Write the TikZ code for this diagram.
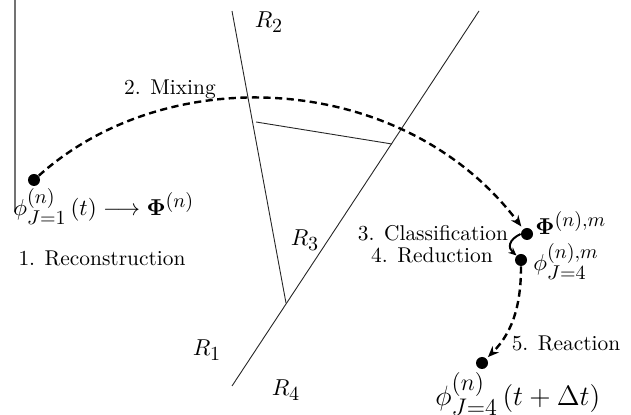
\RequirePackage{fix-cm}
\documentclass[tikz,border=0pt]{standalone}
\usetikzlibrary{arrows.meta}
\DeclareMathSizes{11.5}{11.5}{10}{7.5}
\DeclareMathSizes{14}{14}{12}{9}
\begin{document}
\begin{tikzpicture}[x=0.5pt,y=-0.5pt,
  font=\fontsize{10.7}{13}\selectfont,
  region/.style={draw=black!85, line width=0.45pt},
  frame/.style={draw=black!55, line width=0.6pt},
  flow/.style={line width=1.2pt, dash pattern=on 3.6pt off 2.2pt,
    -{Stealth[length=5.5pt,width=4.5pt]}},
  hook/.style={line width=1.0pt, -{Stealth[length=4pt,width=3.5pt]}},
  dot/.style={circle, fill=black, inner sep=0pt, minimum size=6pt},
  lbl/.style={inner sep=0pt},
  mlbl/.style={inner sep=0pt, font=\fontsize{11.5}{14}\selectfont},
  biglbl/.style={inner sep=0pt, font=\fontsize{14}{16}\selectfont}
]
\useasboundingbox (0,0) rectangle (631,415);

% region boundaries
\coordinate (vt) at (15,0);
\coordinate (vb) at (15,212);
\coordinate (a1) at (232,11);
\coordinate (a2) at (286,303);
\coordinate (b1) at (479,11);
\coordinate (b2) at (232,386);
\coordinate (c1) at (256,122);
\coordinate (c2) at (392,144);
\draw[frame] (vt) -- (vb);
\draw[region] (a1) -- (a2);
\draw[region] (b1) -- (b2);
\draw[region] (c1) -- (c2);

% region labels
\node[mlbl] (r2) at (269,22) {$R_2$};
\node[mlbl] (r3) at (305,240) {$R_3$};
\node[mlbl] (r1) at (207,350) {$R_1$};
\node[mlbl] (r4) at (286,390) {$R_4$};

% particles
\node[dot] (d1) at (34,180) {};
\node[dot] (d2) at (527,234) {};
\node[dot] (d3) at (521,260) {};
\node[dot] (d4) at (482,363) {};

% connectors
\draw[flow, shorten >=1.5pt] (d1) .. controls (170,58) and (405,73) .. (d2);
\draw[hook] (d2.west) .. controls (508,240) and (508,248) .. (d3.north west);
\draw[flow, shorten >=1pt] (d3) .. controls (521,300) and (515,330) .. (d4);

% labels
\node[lbl] (mix) at (170,89) {2. Mixing};
\node[mlbl, anchor=base west] (rec) at (13,216)
  {$\phi_{J=1}^{(n)}\left(t\right)\longrightarrow\mathbf{\Phi}^{(n)}$};
\node[lbl] (recl) at (102,258) {1. Reconstruction};
\node[lbl] (cls) at (433,233) {3. Classification};
\node[lbl] (red) at (432,255) {4. Reduction};
\node[mlbl, anchor=base west] (phim) at (535,235) {$\mathbf{\Phi}^{(n),m}$};
\node[mlbl, anchor=base west] (phij) at (533,271) {$\phi_{J=4}^{(n),m}$};
\node[lbl] (rea) at (566,343) {5. Reaction};
\node[biglbl, anchor=base west] (fin) at (435,406)
  {$\phi_{J=4}^{(n)}\left(t+\Delta t\right)$};
\end{tikzpicture}
\end{document}
